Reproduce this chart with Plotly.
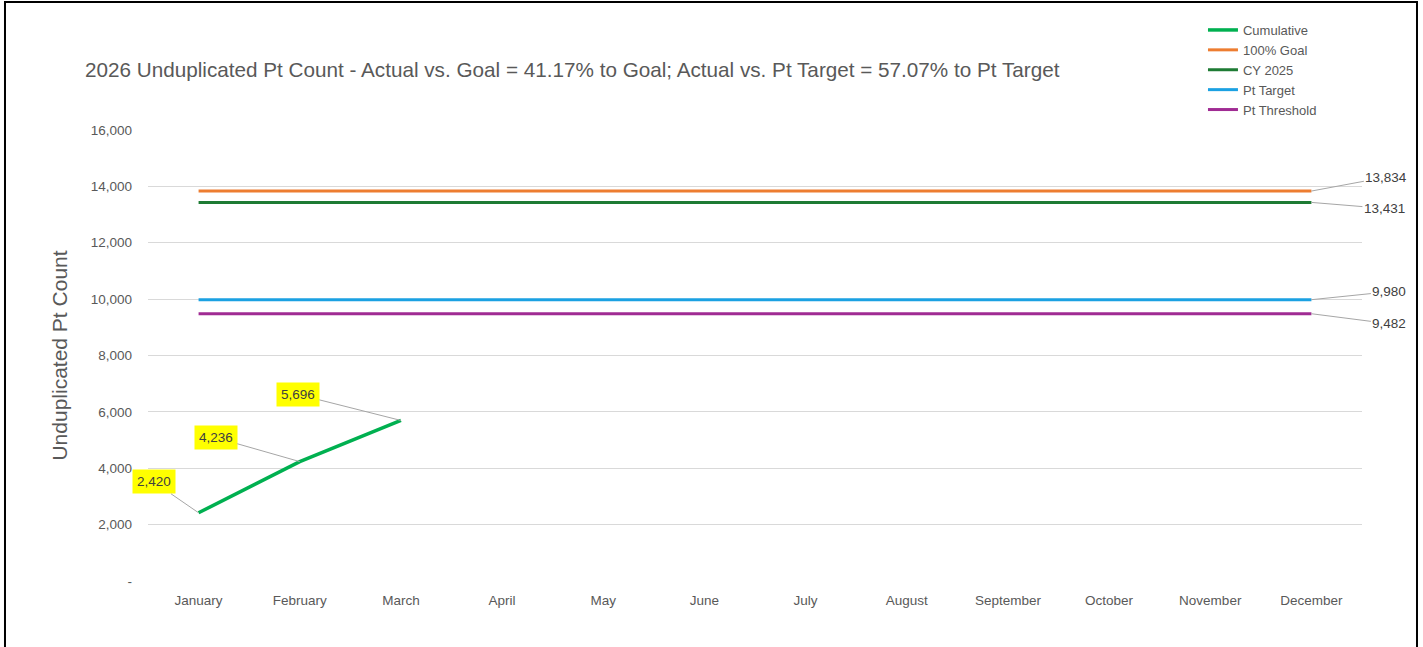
import plotly.graph_objects as go

months = ["January", "February", "March", "April", "May", "June", "July",
          "August", "September", "October", "November", "December"]

cumulative = [2420, 4236, 5696]
goal_100 = [13834, 13834, 13834, 13834, 13834, 13834, 13834, 13834, 13834, 13834, 13834, 13834]
cy_2025 = [13431, 13431, 13431, 13431, 13431, 13431, 13431, 13431, 13431, 13431, 13431, 13431]
pt_target = [9980, 9980, 9980, 9980, 9980, 9980, 9980, 9980, 9980, 9980, 9980, 9980]
pt_threshold = [9482, 9482, 9482, 9482, 9482, 9482, 9482, 9482, 9482, 9482, 9482, 9482]

y_ticks = [0, 2000, 4000, 6000, 8000, 10000, 12000, 14000, 16000]
y_tick_text = ["-", "2,000", "4,000", "6,000", "8,000", "10,000", "12,000", "14,000", "16,000"]

title = ("2026 Unduplicated Pt Count - Actual vs. Goal = 41.17% to Goal; "
         "Actual vs. Pt Target = 57.07% to Pt Target")

GRAY = "#595959"
FONT = "Liberation Sans"

series = [
    ("Cumulative", cumulative, "#00B050"),
    ("100% Goal", goal_100, "#ED7D31"),
    ("CY 2025", cy_2025, "#1E7B34"),
    ("Pt Target", pt_target, "#1BA1E2"),
    ("Pt Threshold", pt_threshold, "#A02B93"),
]

fig = go.Figure()
for name, vals, color in series:
    fig.add_trace(go.Scatter(
        x=months[:len(vals)], y=vals, name=name, mode="lines",
        line=dict(color=color, width=3.5 if name == "Cumulative" else 3),
    ))

# yellow data labels on the cumulative line
cum_offsets = [(-45, -31), (-84, -24), (-103, -26)]
for m, v, (ax, ay) in zip(months, cumulative, cum_offsets):
    fig.add_annotation(
        x=m, y=v, text=f"{v:,}", ax=ax, ay=ay, showarrow=True, arrowhead=0,
        arrowwidth=1, arrowcolor="#A6A6A6", standoff=0, bgcolor="#FFFF00",
        borderpad=4, font=dict(family=FONT, size=13.5, color="#404040"),
    )

# end labels on the flat lines
end_offsets = [(75, -14), (73, 6), (78, -8), (78, 10)]
for (name, vals, color), (ax, ay) in zip(series[1:], end_offsets):
    fig.add_annotation(
        x=months[-1], y=vals[-1], text=f"{vals[-1]:,}", ax=ax, ay=ay,
        showarrow=True, arrowhead=0, arrowwidth=1, arrowcolor="#A6A6A6",
        standoff=0, font=dict(family=FONT, size=13.5, color="#404040"),
    )

# outer frame (bottom edge runs off the page)
fig.add_shape(type="rect", xref="paper", yref="paper",
              x0=-0.1178, x1=1.0453, y0=-0.2, y1=1.2838,
              line=dict(color="black", width=2), layer="above")

fig.update_layout(
    width=1423, height=647,
    margin=dict(l=148, r=61, t=130, b=66, autoexpand=False),
    paper_bgcolor="white", plot_bgcolor="white",
    font=dict(family=FONT, size=13.5, color=GRAY),
    title=dict(text=title, x=85 / 1423, xanchor="left", y=1 - 70 / 647,
               yanchor="middle", font=dict(family=FONT, size=20.7, color=GRAY)),
    legend=dict(x=0.869, xanchor="left", y=1.255, yanchor="top",
                font=dict(family=FONT, size=13, color=GRAY),
                itemwidth=30, tracegroupgap=0, bgcolor="rgba(0,0,0,0)"),
    showlegend=True,
)
fig.update_xaxes(type="category", categoryorder="array", categoryarray=months,
                 range=[-0.5, 11.5], showgrid=False, showline=False, ticks="",
                 tickfont=dict(family=FONT, size=13.5, color=GRAY), ticklabelstandoff=9)
fig.update_yaxes(range=[0, 16000], tickvals=y_ticks, ticktext=y_tick_text,
                 showgrid=True, gridcolor="#D9D9D9", gridwidth=1, zeroline=False,
                 showline=False, ticks="", ticklabelstandoff=15,
                 tickfont=dict(family=FONT, size=13.5, color=GRAY),
                 title=dict(text="Unduplicated Pt Count", standoff=17,
                            font=dict(family=FONT, size=21, color=GRAY)))

fig.write_html("out.html", config={"displayModeBar": False},
               post_script="document.body.style.margin='0';")
